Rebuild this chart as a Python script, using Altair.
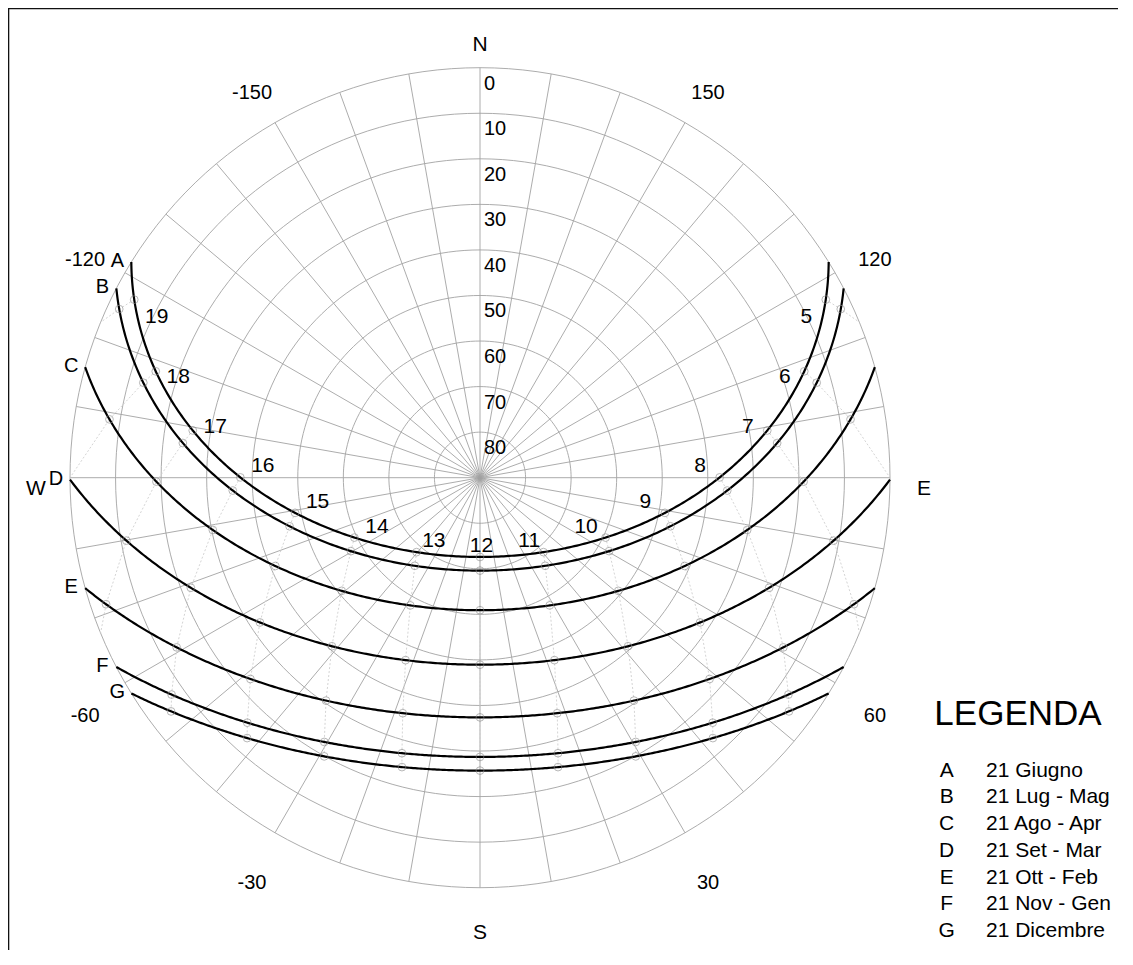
import numpy as np
import pandas as pd
import altair as alt

# ---------------- values ----------------
latitude = 40.85
curve_ids = ["A", "B", "C", "D", "E", "F", "G"]
curve_names = ["21 Giugno", "21 Lug - Mag", "21 Ago - Apr", "21 Set - Mar",
               "21 Ott - Feb", "21 Nov - Gen", "21 Dicembre"]
declinations = [23.45, 20.45, 11.76, -0.20, -11.76, -20.44, -23.45]
hours = list(range(5, 20))
altitude_rings = [0, 10, 20, 30, 40, 50, 60, 70, 80]
spoke_azimuths = list(range(-180, 180, 10))
azimuth_label_values = [-150, -120, -60, -30, 30, 60, 120, 150]
compass_labels = ["N", "E", "S", "W"]
compass_azimuths = [180, 90, 0, -90]

# ---------------- layout ----------------
W, H = 1112, 942
K = 410 / 90.0            # px per degree of zenith distance
CX, CY = 480.0, 477.7     # page position of the zenith
xmin = -(CX - 8) / K
xmax = xmin + W / K
ymax = (CY - 8) / K
ymin = ymax - H / K
FONT = "Liberation Sans"

phi = np.radians(latitude)


def sun(dec_deg, hour_angle_deg):
    d = np.radians(dec_deg)
    ha = np.radians(hour_angle_deg)
    sin_h = np.sin(phi) * np.sin(d) + np.cos(phi) * np.cos(d) * np.cos(ha)
    h = np.degrees(np.arcsin(np.clip(sin_h, -1, 1)))
    az_w = np.degrees(np.arctan2(np.sin(ha), np.cos(ha) * np.sin(phi) - np.tan(d) * np.cos(phi)))
    return h, -az_w   # azimuth from South, positive toward East


def proj(az, alt_deg):
    r = 90.0 - np.asarray(alt_deg, dtype=float)
    a = np.radians(np.asarray(az, dtype=float))
    return r * np.sin(a), -r * np.cos(a)


# grid rings
rows = []
for ring in altitude_rings:
    for i, a in enumerate(np.arange(-180, 181, 2)):
        x, y = proj(a, ring)
        rows.append(dict(ring=ring, seq=i, x=float(x), y=float(y)))
rings_df = pd.DataFrame(rows)

# spokes
rows = []
for a in spoke_azimuths:
    for i, al in enumerate([90, 0]):
        x, y = proj(a, al)
        rows.append(dict(spoke=a, seq=i, x=float(x), y=float(y)))
spokes_df = pd.DataFrame(rows)

# sun paths
rows = []
ends = []
for cid, dec in zip(curve_ids, declinations):
    h0 = np.degrees(np.arccos(-np.tan(phi) * np.tan(np.radians(dec))))
    has = np.linspace(-h0, h0, 361)
    hh, az = sun(dec, has)
    hh = np.clip(hh, 0, None)
    x, y = proj(az, hh)
    for i in range(len(has)):
        rows.append(dict(curve=cid, seq=i, x=float(x[i]), y=float(y[i])))
    ends.append(dict(curve=cid, x=float(x[-1]), y=float(y[-1])))
curves_df = pd.DataFrame(rows)
ends_df = pd.DataFrame(ends)

# hour points
rows = []
for cid, dec in zip(curve_ids, declinations):
    for hr in hours:
        ha = 15.0 * (hr - 12)
        hh, az = sun(dec, ha)
        if hh > 0:
            x, y = proj(az, hh)
            rows.append(dict(curve=cid, hour=hr, dec=dec, x=float(x), y=float(y)))
points_df = pd.DataFrame(rows)

# hour lines (same hour across the dates, closed on the horizon)
rows = []
for hr in hours:
    ha = 15.0 * (hr - 12)
    pts = points_df[points_df.hour == hr][["dec", "x", "y"]].values.tolist()
    dec_h = np.degrees(np.arctan(-np.cos(np.radians(ha)) / np.tan(phi)))
    if min(declinations) <= dec_h <= max(declinations) and len(pts) < len(curve_ids):
        hh, az = sun(dec_h, ha)
        x, y = proj(az, 0.0)
        pts.append([dec_h, float(x), float(y)])
    pts.sort(key=lambda p: -p[0])
    for i, p in enumerate(pts):
        rows.append(dict(hour=hr, seq=i, x=p[1], y=p[2]))
hourlines_df = pd.DataFrame(rows)

# hour labels beside curve A
rows = []
a_pts = points_df[points_df.curve == "A"]
for _, r in a_pts.iterrows():
    ha = 15.0 * (r.hour - 12)
    side = 1 if ha > 0 else (-1 if ha < 0 else 0)
    dx = side * 21 * min(abs(ha) / 20.0, 1) + 1.5
    dy = -11 + 0.16 * max(r.y * K, 0)
    rows.append(dict(label=str(int(r.hour)), x=r.x + dx / K, y=r.y - dy / K))
hour_labels_df = pd.DataFrame(rows)

# altitude labels (on the north line)
alt_lab_df = pd.DataFrame(dict(label=[str(v) for v in altitude_rings],
                               x=[0.0] * len(altitude_rings),
                               y=[90.0 - v for v in altitude_rings]))

# azimuth labels
ax_, ay_ = proj(azimuth_label_values, [90 - 456 / K] * len(azimuth_label_values))
az_lab_df = pd.DataFrame(dict(label=[str(v) for v in azimuth_label_values], x=ax_, y=ay_))

cx_, cy_ = proj(compass_azimuths, [90 - 444 / K] * len(compass_azimuths))
compass_df = pd.DataFrame(dict(label=compass_labels, x=cx_, y=cy_))

legend_df = pd.DataFrame(dict(letter=curve_ids, name=curve_names, i=list(range(len(curve_ids)))))

xs = alt.Scale(domain=[xmin, xmax], nice=False, zero=False)
ys = alt.Scale(domain=[ymin, ymax], nice=False, zero=False)


def XY():
    return dict(x=alt.X("x:Q", scale=xs, axis=None), y=alt.Y("y:Q", scale=ys, axis=None))


rings = alt.Chart(rings_df).mark_line(stroke="#a3a3a3", strokeWidth=0.9).encode(
    detail="ring:N", order="seq:Q", **XY())
spokes = alt.Chart(spokes_df).mark_line(stroke="#a3a3a3", strokeWidth=0.9).encode(
    detail="spoke:N", order="seq:Q", **XY())
hourlines = alt.Chart(hourlines_df).mark_line(stroke="#cfcfcf", strokeWidth=0.9,
                                              strokeDash=[2, 2]).encode(
    detail="hour:N", order="seq:Q", **XY())
curves = alt.Chart(curves_df).mark_line(stroke="black", strokeWidth=2.2).encode(
    detail="curve:N", order="seq:Q", **XY())
circles = alt.Chart(points_df).mark_point(shape="circle", filled=False, size=60,
                                          stroke="#8c8c8c", strokeWidth=0.9).encode(**XY())
hour_text = alt.Chart(hour_labels_df).mark_text(font=FONT, fontSize=21, color="black",
                                                align="center", baseline="middle").encode(
    text="label:N", **XY())
letters = alt.Chart(ends_df).mark_text(font=FONT, fontSize=20, color="black", align="center",
                                       baseline="middle", dx=-14, dy=-1).encode(
    text="curve:N", **XY())
alt_text = alt.Chart(alt_lab_df).mark_text(font=FONT, fontSize=20, color="black", align="left",
                                           baseline="top", dx=4, dy=6).encode(
    text="label:N", **XY())
az_text = alt.Chart(az_lab_df).mark_text(font=FONT, fontSize=20, color="black", align="center",
                                         baseline="top").encode(text="label:N", **XY())
compass_text = alt.Chart(compass_df).mark_text(font=FONT, fontSize=21, color="black",
                                               align="center", baseline="top").encode(
    text="label:N", **XY())

legend_title = alt.Chart(pd.DataFrame(dict(t=["LEGENDA"]))).mark_text(
    font=FONT, fontSize=35, color="black", align="center", baseline="middle").encode(
    text="t:N", x=alt.value(1010), y=alt.value(705.5))
legend_letters = alt.Chart(legend_df).transform_calculate(
    ly="762.7 + 26.7 * datum.i").mark_text(
    font=FONT, fontSize=21, color="black", align="center", baseline="middle").encode(
    text="letter:N", x=alt.value(938.7), y=alt.Y("ly:Q", scale=None, axis=None))
legend_names = alt.Chart(legend_df).transform_calculate(
    ly="762.7 + 26.7 * datum.i").mark_text(
    font=FONT, fontSize=21, color="black", align="left", baseline="middle").encode(
    text="name:N", x=alt.value(978), y=alt.Y("ly:Q", scale=None, axis=None))

# page frame (left and top sides only, as in the reference window)
frame_left = alt.Chart(pd.DataFrame(dict(k=[0]))).mark_rule(color="#111", strokeWidth=2).encode(
    x=alt.value(0.3), y=alt.value(0), y2=alt.value(H))
frame_top = alt.Chart(pd.DataFrame(dict(k=[0]))).mark_rule(color="#111", strokeWidth=2).encode(
    y=alt.value(0.3), x=alt.value(0), x2=alt.value(W - 2))

chart = alt.layer(
    rings, spokes, hourlines, curves, circles, hour_text, letters, alt_text, az_text,
    compass_text, legend_title, legend_letters, legend_names, frame_left, frame_top
).resolve_scale(x="independent", y="independent").properties(
    width=W, height=H, padding=0, background="white",
    autosize=alt.AutoSizeParams(type="none"),
    view=alt.ViewBackground(stroke="transparent", strokeWidth=0)
).configure_view(strokeWidth=0, stroke="transparent")

chart.save("out.html", embed_options={"renderer": "svg", "actions": False})
